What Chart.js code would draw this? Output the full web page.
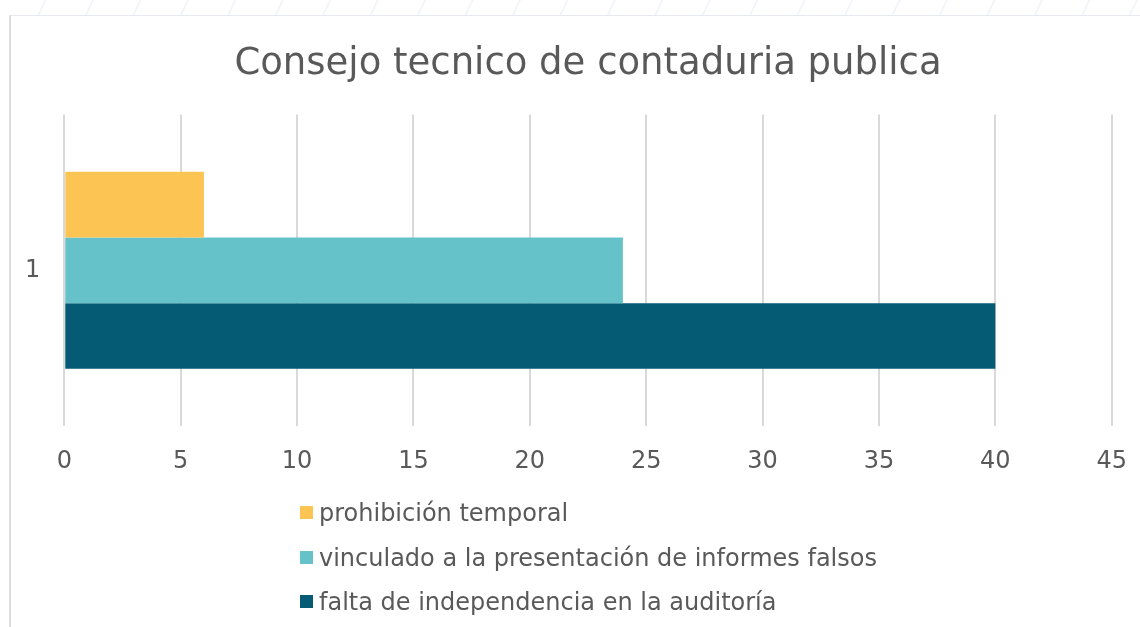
<!DOCTYPE html>
<html>
<head>
<meta charset="utf-8">
<script src="https://cdn.jsdelivr.net/npm/chart.js@4/dist/chart.umd.min.js"></script>
<style>
  html, body { margin: 0; padding: 0; background: #fff; }
  #wrap { position: relative; width: 1140px; height: 627px; overflow: hidden; }
  #franja {
    position: absolute; left: 0; top: 0; width: 1140px; height: 15px;
    background: repeating-linear-gradient(115deg, #fff 0px, #fff 40px, #eef2f7 41px, #fff 43px);
  }
  #marco {
    position: absolute; left: 9px; top: 15px; width: 1140px; height: 620px;
    border-left: 2px solid #dcdcdc; border-top: 1px solid #e6eaee; background: #fff;
  }
  #graficoConsejo { position: absolute; left: 0; top: 0; }
  #leyenda {
    position: absolute; left: 300px; top: 499px;
    font-family: "DejaVu Sans", Verdana, sans-serif; font-size: 24px; color: #595959;
  }
  .item { height: 44.5px; display: flex; align-items: flex-start; line-height: 28px; }
  .caja { width: 13px; height: 13px; margin-right: 6px; margin-top: 7px; flex: none; }
</style>
</head>
<body>
<div id="wrap">
  <div id="franja"></div>
  <div id="marco"></div>
  <canvas id="graficoConsejo" width="1148" height="627"></canvas>
  <div id="leyenda"></div>
</div>
<script>
// Datos del gráfico
const categorias = ["1"];
const series = ["prohibición temporal", "vinculado a la presentación de informes falsos", "falta de independencia en la auditoría"];
const valores = [6, 24, 40];
const colores = ["#FCC453", "#66C2C9", "#065B74"];
const titulo = "Consejo tecnico de contaduria publica";

const ctx = document.getElementById("graficoConsejo").getContext("2d");
const fuente = "'DejaVu Sans', Verdana, sans-serif";
const gris = "#595959";

const datasets = series.map((nombre, i) => ({
  label: nombre,
  data: [valores[i]],
  backgroundColor: colores[i],
  borderWidth: 0,
  barPercentage: 1,
  categoryPercentage: 0.632
}));

const grafico = new Chart(ctx, {
  type: "bar",
  data: { labels: categorias, datasets },
  options: {
    indexAxis: "y",
    responsive: false,
    animation: false,
    layout: { padding: { left: 1, right: 12, top: 0, bottom: 130 } },
    plugins: {
      legend: { display: false },
      tooltip: { enabled: false },
      title: {
        display: true,
        fullSize: false,
        text: titulo,
        color: gris,
        font: { family: fuente, size: 37, weight: "normal" },
        padding: { top: 42, bottom: 28 }
      }
    },
    scales: {
      x: {
        min: 0,
        max: 45,
        ticks: { stepSize: 5, color: gris, font: { family: fuente, size: 24 }, padding: 21 },
        grid: { color: "#d9d9d9", lineWidth: 2, drawTicks: false },
        border: { display: false }
      },
      y: {
        ticks: { color: gris, font: { family: fuente, size: 24 }, padding: 24 },
        grid: { display: false, drawTicks: false },
        border: { display: false }
      }
    }
  }
});

// Leyenda vertical en HTML
const leyenda = document.getElementById("leyenda");
grafico.data.datasets.forEach((d) => {
  const fila = document.createElement("div");
  fila.className = "item";
  const caja = document.createElement("span");
  caja.className = "caja";
  caja.style.background = d.backgroundColor;
  const texto = document.createElement("span");
  texto.textContent = d.label;
  fila.appendChild(caja);
  fila.appendChild(texto);
  leyenda.appendChild(fila);
});
</script>
</body>
</html>
